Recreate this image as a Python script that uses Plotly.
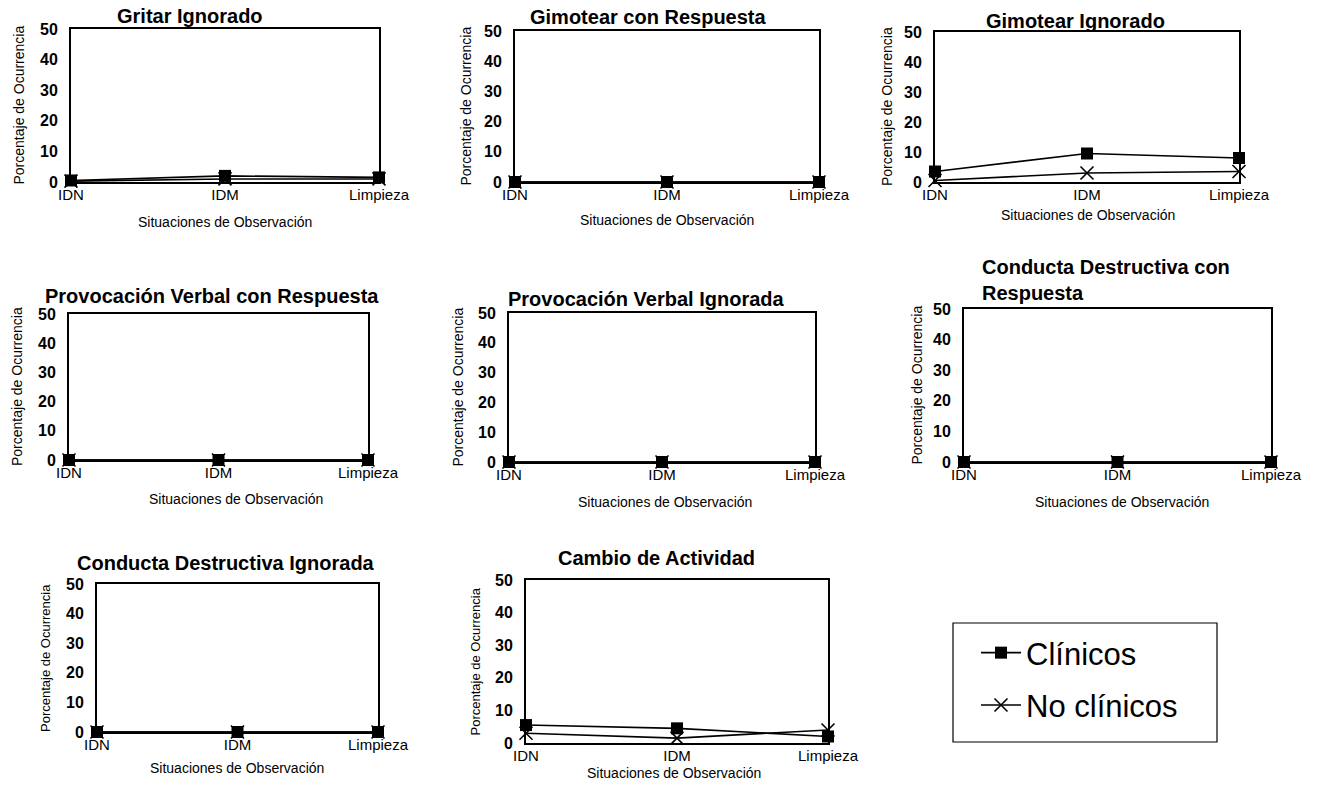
import plotly.graph_objects as go

W, H = 1322, 791

categories = ["IDN", "IDM", "Limpieza"]
series_names = ["Clínicos", "No clínicos"]

titles = [
    "Gritar Ignorado",
    "Gimotear con Respuesta",
    "Gimotear Ignorado",
    "Provocación Verbal con Respuesta",
    "Provocación Verbal Ignorada",
    "Conducta Destructiva con<br>Respuesta",
    "Conducta Destructiva Ignorada",
    "Cambio de Actividad",
]

clinicos_gritar_ign = [0.5, 2.0, 1.5]
noclin_gritar_ign = [0.3, 1.0, 1.0]
clinicos_gimotear_resp = [0, 0, 0]
noclin_gimotear_resp = [0, 0, 0]
clinicos_gimotear_ign = [3.5, 9.5, 8.0]
noclin_gimotear_ign = [0.5, 3.0, 3.5]
clinicos_provoc_resp = [0, 0, 0]
noclin_provoc_resp = [0, 0, 0]
clinicos_provoc_ign = [0, 0, 0]
noclin_provoc_ign = [0, 0, 0]
clinicos_destr_resp = [0, 0, 0]
noclin_destr_resp = [0, 0, 0]
clinicos_destr_ign = [0, 0, 0]
noclin_destr_ign = [0, 0, 0]
clinicos_cambio = [5.5, 4.5, 2.0]
noclin_cambio = [3.0, 1.5, 4.0]

clinicos = [clinicos_gritar_ign, clinicos_gimotear_resp, clinicos_gimotear_ign,
            clinicos_provoc_resp, clinicos_provoc_ign, clinicos_destr_resp,
            clinicos_destr_ign, clinicos_cambio]
noclin = [noclin_gritar_ign, noclin_gimotear_resp, noclin_gimotear_ign,
          noclin_provoc_resp, noclin_provoc_ign, noclin_destr_resp,
          noclin_destr_ign, noclin_cambio]

y_ticks = [0, 10, 20, 30, 40, 50]

panels = [
    dict(box=(71, 379, 29, 182), title=(190, 16), ytx=18, xt=(225, 222)),
    dict(box=(515, 819, 31, 182), title=(648, 17), ytx=465, xt=(667, 220)),
    dict(box=(935, 1239, 32, 182), title=(1075, 21), ytx=887, xt=(1088, 215)),
    dict(box=(69, 368, 314, 460), title=(212, 296), ytx=17, xt=(236, 499)),
    dict(box=(509, 815, 313, 462), title=(646, 299), ytx=457, xt=(665, 502)),
    dict(box=(964, 1271, 309, 462), title=(980, 280), ytx=917, xt=(1122, 502), left=True),
    dict(box=(97, 378, 584, 732), title=(226, 563), ytx=45, xt=(237, 768)),
    dict(box=(526, 828, 580, 743), title=(656, 558), ytx=475, xt=(674, 773)),
]

FONT = "Liberation Sans, Arial, sans-serif"

fig = go.Figure()
annotations = []

for i, p in enumerate(panels):
    n = i + 1
    xa = "x" if n == 1 else f"x{n}"
    ya = "y" if n == 1 else f"y{n}"
    l, r, t, b = p["box"]
    fig.add_trace(go.Scatter(
        x=list(range(len(categories))), y=noclin[i], xaxis=xa, yaxis=ya,
        mode="lines+markers", name=series_names[1], legendrank=2,
        legendgroup="noclin", showlegend=(i == 0), cliponaxis=False,
        line=dict(color="black", width=1.6),
        marker=dict(symbol="x-thin-open", size=13, color="black",
                    line=dict(color="black", width=1.6)),
    ))
    fig.add_trace(go.Scatter(
        x=list(range(len(categories))), y=clinicos[i], xaxis=xa, yaxis=ya,
        mode="lines+markers", name=series_names[0], legendrank=1,
        legendgroup="clin", showlegend=(i == 0), cliponaxis=False,
        line=dict(color="black", width=1.6),
        marker=dict(symbol="square", size=12, color="black"),
    ))
    ax_common = dict(showline=True, mirror=True, linecolor="black", linewidth=1.8,
                     showgrid=False, zeroline=False, ticks="", automargin=False)
    fig.update_layout(**{
        ("xaxis" if n == 1 else f"xaxis{n}"): dict(
            domain=[l / W, r / W], anchor=ya, range=[0, 2],
            tickvals=list(range(len(categories))), ticktext=categories,
            tickfont=dict(family=FONT, size=15, color="black"),
            ticklabelstandoff=-2, **ax_common),
        ("yaxis" if n == 1 else f"yaxis{n}"): dict(
            domain=[1 - b / H, 1 - t / H], anchor=xa, range=[0, 50],
            tickvals=y_ticks,
            tickfont=dict(family=FONT, size=16, color="black", weight="bold"),
            ticklabelstandoff=8, **ax_common),
    })
    tx, ty = p["title"]
    annotations.append(dict(
        text=titles[i], x=tx / W, y=1 - ty / H, xref="paper", yref="paper",
        xanchor="left" if p.get("left") else "center", yanchor="middle",
        align="left", showarrow=False,
        font=dict(family=FONT, size=20, color="black", weight="bold")))
    annotations.append(dict(
        text="Porcentaje de Ocurrencia", x=p["ytx"] / W, y=1 - (t + b) / 2 / H,
        xref="paper", yref="paper", xanchor="center", yanchor="middle",
        textangle=-90, showarrow=False,
        font=dict(family=FONT, size=13 if i >= 6 else 14, color="black")))
    xx, xy = p["xt"]
    annotations.append(dict(
        text="Situaciones de Observación", x=xx / W, y=1 - xy / H,
        xref="paper", yref="paper", xanchor="center", yanchor="middle",
        showarrow=False, font=dict(family=FONT, size=14, color="black")))

shapes = [
    dict(type="rect", xref="paper", yref="paper",
         x0=953 / W, x1=1217 / W, y0=1 - 742 / H, y1=1 - 623 / H,
         line=dict(color="black", width=1.2), fillcolor="rgba(0,0,0,0)"),
]

fig.update_layout(
    width=W, height=H, autosize=False,
    margin=dict(l=0, r=0, t=0, b=0, pad=0, autoexpand=False),
    paper_bgcolor="white", plot_bgcolor="white",
    annotations=annotations,
    shapes=shapes,
    showlegend=True,
    legend=dict(
        x=976 / W, y=1 - 626 / H, xanchor="left", yanchor="top",
        borderwidth=0, bgcolor="rgba(0,0,0,0)",
        font=dict(family=FONT, size=31, color="black"),
        itemwidth=40, tracegroupgap=9, traceorder="grouped",
    ),
)

fig.write_html("out.html")
